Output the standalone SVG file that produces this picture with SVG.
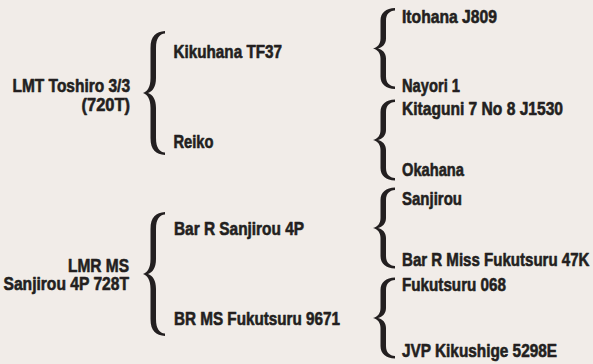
<svg xmlns="http://www.w3.org/2000/svg" xmlns:xlink="http://www.w3.org/1999/xlink" width="593" height="364" viewBox="0 0 593 364">
  <style>
    .t { font-family: "Liberation Sans", Arial, sans-serif; font-weight: bold; font-size: 18.5px; fill: #231f20; stroke: #231f20; stroke-width: 0.6px; stroke-linejoin: round; }
    .brace { fill: #231f20; }
  </style>
  <defs>
    <path id="braceL" d="M 22,-62 C 13,-61.5 7.5,-57 7.5,-45 L 7.5,-15 C 7.5,-6 4.5,-1.5 0,0 C 4.5,1.5 7.5,6 7.5,15 L 7.5,45 C 7.5,57 13,61.5 22,62 L 22,59.5 C 16.5,59 13,55 13,45 L 13,15 C 13,6 9.5,1.5 5,0 C 9.5,-1.5 13,-6 13,-15 L 13,-45 C 13,-55 16.5,-59 22,-59.5 Z"/>
    <path id="braceS" d="M 22,-40.5 C 13,-40 7.5,-36 7.5,-28 L 7.5,-10 C 7.5,-4.5 4.5,-1 0,0 C 4.5,1 7.5,4.5 7.5,10 L 7.5,28 C 7.5,36 13,40 22,40.5 L 22,38 C 16.5,37.5 13,34.5 13,28 L 13,10 C 13,4.5 9.5,1 5,0 C 9.5,-1 13,-4.5 13,-10 L 13,-28 C 13,-34.5 16.5,-37.5 22,-38 Z"/>
  </defs>
  <rect x="0" y="0" width="593" height="364" fill="#f1ece8"/>

  <g id="connectors" class="brace">
    <use xlink:href="#braceL" href="#braceL" transform="translate(143,93)"/>
    <use xlink:href="#braceL" href="#braceL" transform="translate(143,274)"/>
    <use xlink:href="#braceS" href="#braceS" transform="translate(373,48.5)"/>
    <use xlink:href="#braceS" href="#braceS" transform="translate(373,140)"/>
    <use xlink:href="#braceS" href="#braceS" transform="translate(373,228)"/>
    <use xlink:href="#braceS" href="#braceS" transform="translate(373,318)"/>
  </g>

  <g id="n-lmt-toshiro">
    <text class="t" x="12.5" y="92" textLength="117.5" lengthAdjust="spacingAndGlyphs">LMT Toshiro 3/3</text>
    <text class="t" x="81.5" y="111" textLength="48.5" lengthAdjust="spacingAndGlyphs">(720T)</text>
  </g>
  <g id="n-lmr-ms">
    <text class="t" x="68" y="272" textLength="61" lengthAdjust="spacingAndGlyphs">LMR MS</text>
    <text class="t" x="3.5" y="290" textLength="125.5" lengthAdjust="spacingAndGlyphs">Sanjirou 4P 728T</text>
  </g>

  <g id="n-kikuhana"><text class="t" x="173.5" y="57.5" textLength="108.5" lengthAdjust="spacingAndGlyphs">Kikuhana TF37</text></g>
  <g id="n-reiko"><text class="t" x="173.5" y="148" textLength="40" lengthAdjust="spacingAndGlyphs">Reiko</text></g>
  <g id="n-bar-r-sanjirou"><text class="t" x="174" y="235" textLength="130" lengthAdjust="spacingAndGlyphs">Bar R Sanjirou 4P</text></g>
  <g id="n-br-ms-fukutsuru"><text class="t" x="174" y="325" textLength="166" lengthAdjust="spacingAndGlyphs">BR MS Fukutsuru 9671</text></g>

  <g id="n-itohana"><text class="t" x="402" y="23" textLength="95" lengthAdjust="spacingAndGlyphs">Itohana J809</text></g>
  <g id="n-nayori"><text class="t" x="402" y="92" textLength="58" lengthAdjust="spacingAndGlyphs">Nayori 1</text></g>
  <g id="n-kitaguni"><text class="t" x="402" y="115" textLength="161" lengthAdjust="spacingAndGlyphs">Kitaguni 7 No 8 J1530</text></g>
  <g id="n-okahana"><text class="t" x="402" y="176" textLength="62" lengthAdjust="spacingAndGlyphs">Okahana</text></g>
  <g id="n-sanjirou"><text class="t" x="402" y="205" textLength="60" lengthAdjust="spacingAndGlyphs">Sanjirou</text></g>
  <g id="n-bar-r-miss"><text class="t" x="402" y="265.5" textLength="187.5" lengthAdjust="spacingAndGlyphs">Bar R Miss Fukutsuru 47K</text></g>
  <g id="n-fukutsuru-068"><text class="t" x="402" y="291" textLength="104" lengthAdjust="spacingAndGlyphs">Fukutsuru 068</text></g>
  <g id="n-jvp"><text class="t" x="402" y="357" textLength="155" lengthAdjust="spacingAndGlyphs">JVP Kikushige 5298E</text></g>
</svg>
